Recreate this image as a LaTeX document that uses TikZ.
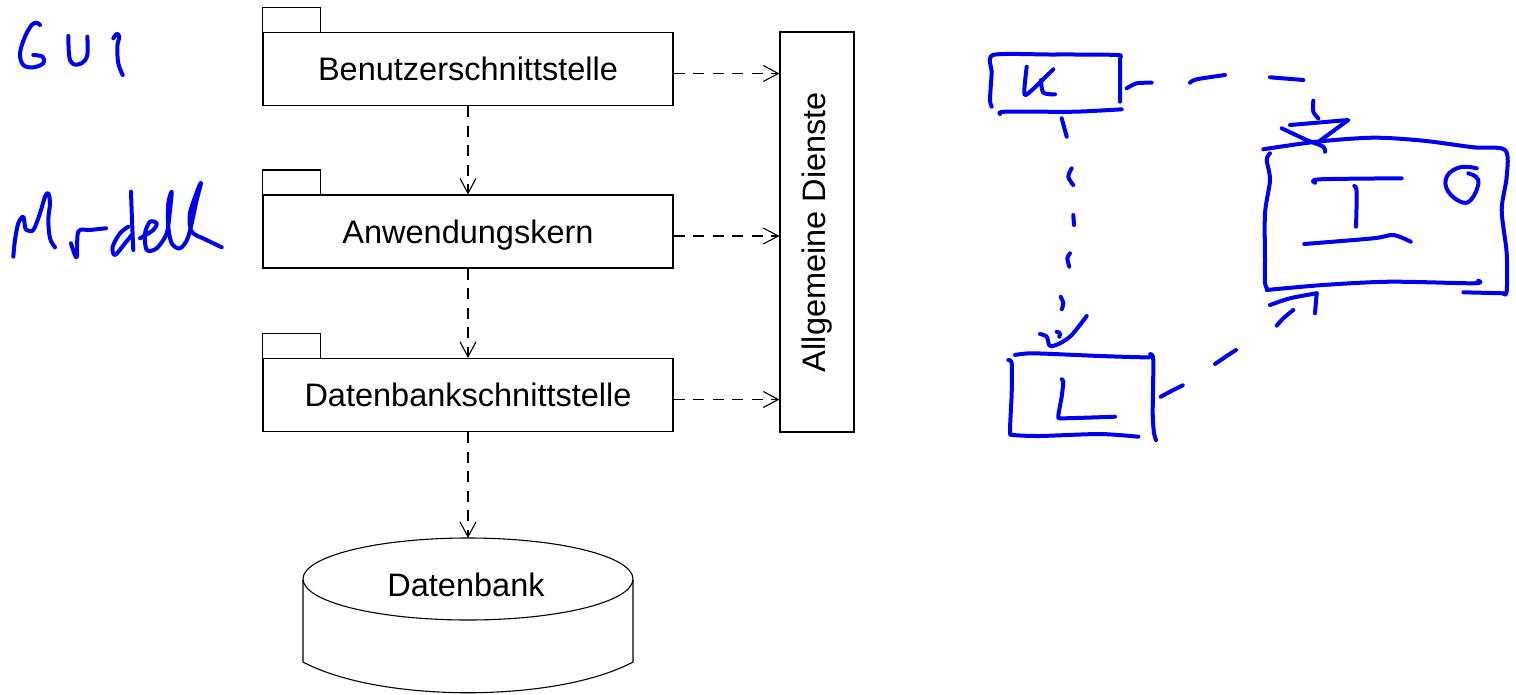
\documentclass[tikz,border=0pt]{standalone}
\usepackage{fontspec}
\setmainfont{Liberation Sans}
\usetikzlibrary{arrows.meta}
\definecolor{ink}{RGB}{0,0,240}
\begin{document}
\begin{tikzpicture}[x=1pt,y=-1pt,
  lbl/.style={font=\fontsize{32.5}{39}\selectfont},
  pkg/.style={draw, line width=1.1pt, minimum width=410pt, minimum height=73pt, inner sep=0pt,
    text height=23pt, text depth=0pt, lbl},
  dep/.style={draw, line width=1.1pt, dash pattern=on 11pt off 8.5pt,
    -{Straight Barb[length=15pt,width=16pt,line width=1.1pt]}},
  hw/.style={draw=ink, line width=4pt, line cap=round, line join=round},
]
\useasboundingbox (0,0) rectangle (1516,694);

% --- layered architecture ---
\node[pkg] (ui)  at (468,69)    {Benutzerschnittstelle};
\node[pkg] (ak)  at (468,231.5) {Anwendungskern};
\node[pkg] (dbs) at (468,395)   {Datenbankschnittstelle};
\foreach \p in {ui,ak,dbs}
  \draw[line width=1.1pt] (\p.north west) -- ++(0,-24.5) -- ++(58,0) -- ++(0,24.5);

\node[draw, line width=1.1pt, minimum width=74pt, minimum height=400pt, inner sep=0pt] (ad) at (817,232) {};
\node[lbl, rotate=90] (adtext) at (ad.center) {Allgemeine Dienste};

% database cylinder
\draw[line width=1.1pt] (303,580) -- (303,662) .. controls (380,703) and (556,703) .. (633,662) -- (633,580);
\draw[line width=1.1pt, fill=white] (468,579) ellipse [x radius=165, y radius=41];
\node[lbl] (db) at (466,585) {Datenbank};
\coordinate (dbtop) at (468,538);

% dependencies
\draw[dep] (ui.south) -- (ak.north);
\draw[dep] (ak.south) -- (dbs.north);
\draw[dep] (dbs.south) -- (dbtop);
\foreach \p in {ui,ak,dbs}
  \draw[dep] ([yshift=-4.5pt]\p.east) -- ([yshift=-4.5pt]\p.east -| ad.west);

% --- handwritten notes ---
% GUI
\draw[hw] plot[smooth, tension=0.6] coordinates {(40,25) (36.7,22.7) (31.7,25) (25,36.7) (20,53.3) (23.3,65) (33.3,67.3) (43.3,63.3) (42.7,56.7) (33.3,55)};
\draw[hw] plot[smooth, tension=0.6] coordinates {(68.3,36) (69.3,56.7) (73.3,64) (81.7,63.3) (87.3,55) (87.3,36.7)};
\draw[hw] plot[smooth, tension=0.6] coordinates {(113.3,38.3) (116.7,34) (119.3,36.7) (117.3,46.7) (118.3,63.3) (122.7,75)};
% Modell
\draw[hw] plot[smooth, tension=0.55] coordinates {(13.3,256.7) (15,240) (18.3,223.3) (23.3,216.7) (25,226.7) (26.7,230) (33.3,230) (40,213.3) (45,196.7) (48.3,193.3) (50,203.3) (48.3,220) (50,238.3) (55,247.3)};
\draw[hw] plot[smooth, tension=0.55] coordinates {(71,243.3) (76.7,257.3) (78.3,231.7) (90,230) (106,228.3)};
\draw[hw] plot[smooth, tension=0.55] coordinates {(131,191.7) (132,220) (133.3,250)};
\draw[hw] plot[smooth, tension=0.55] coordinates {(128.3,226.7) (120,233.3) (112.7,246.7) (115,255) (125,243.3) (131.7,235)};
\draw[hw] plot[smooth, tension=0.5] coordinates {(140,238.3) (153.3,230) (156.7,223.3) (150,221.7) (145,233.3) (146.7,250) (156.7,248.3) (166.7,233.3) (170,210) (171.7,191.7) (168.3,203.3) (168.3,226.7) (171.7,243.3) (180,248.3) (188.3,236.7) (196.7,200) (201,183.3) (198.3,188.3) (190,213.3) (191.7,231.7) (206.7,240) (221.7,247.3)};

% box K
\draw[hw] plot[smooth, tension=0.4] coordinates {(991.7,106.7) (990,100) (991.7,73) (993,55) (1050,54.5) (1116.7,55) (1120,60) (1120,101.7)};
\draw[hw] plot[smooth, tension=0.4] coordinates {(1000,114) (1005,111.7) (1075,111.7) (1121.7,109.3)};
\draw[hw] plot[smooth, tension=0.5] coordinates {(1026.7,66.7) (1024.3,91.7) (1028.3,93.3) (1053.3,69.3)};
\draw[hw] plot[smooth, tension=0.5] coordinates {(1041,80) (1043.3,92.7) (1055,94.3)};

% dashed arc K -> I
\draw[hw] plot[smooth] coordinates {(1126.7,88.3) (1136.7,83.3) (1151.7,82.7)};
\draw[hw] plot[smooth] coordinates {(1190,82.7) (1196.7,79.3) (1225,75)};
\draw[hw] (1270,77.3) -- (1303.3,80);
\draw[hw] plot[smooth] coordinates {(1313.3,100.7) (1313.3,111.7) (1318.3,118.3)};
\draw[hw] (1290,125) -- (1348.3,120) -- (1320,140.7);
\draw[hw] plot[smooth] coordinates {(1281.7,128.3) (1306.7,140) (1323.3,146.7) (1325,151.7)};

% box I
\draw[hw] plot[smooth, tension=0.5] coordinates {(1263.3,149.3) (1316.7,141.7) (1373.3,137.7) (1423.3,140.7) (1473.3,147.3) (1505,150) (1506.7,176.7) (1501.7,210) (1506.7,253.3) (1506.7,291.7) (1503.3,293.3)};
\draw[hw] (1463.3,292.3) -- (1503.3,293.3);
\draw[hw] plot[smooth, tension=0.5] coordinates {(1270,153.3) (1266.7,160) (1270,180) (1265,213.3) (1265,260) (1265,283.3) (1268.3,290)};
\draw[hw] plot[smooth, tension=0.5] coordinates {(1266.7,290) (1323.3,285) (1390,281.7) (1473.3,283.3) (1478.3,280.7)};
\draw[hw] plot[smooth] coordinates {(1315,182.7) (1320,179.3) (1401.7,178.3)};
\draw[hw] plot[smooth] coordinates {(1354.3,186) (1356.7,191.7) (1356,226.7)};
\draw[hw] plot[smooth, tension=0.5] coordinates {(1304.3,244) (1373.3,238.3) (1393.3,235) (1410.7,241.7)};
\draw[hw] plot[smooth, tension=0.7] coordinates {(1476.7,168.3) (1460,167.3) (1446.7,176.7) (1448.3,191.7) (1463.3,202.7) (1473.3,196.7) (1478.3,180) (1468.3,173.3)};

% dashed arc L -> I
\draw[hw] plot[smooth] coordinates {(1270,305) (1290,298.3) (1316.7,293.3)};
\draw[hw] (1316.7,293.3) -- (1315,313.3);
\draw[hw] plot[smooth] coordinates {(1276.7,325.7) (1283.3,318.3) (1293.3,310)};
\draw[hw] plot[smooth] coordinates {(1215,364) (1226.7,356) (1236,350)};
\draw[hw] plot[smooth] coordinates {(1160.7,396.7) (1173.3,390) (1182.7,385.3)};

% dashed line K -> L
\draw[hw] (1061.7,118.3) -- (1066.7,136.7);
\draw[hw] plot[smooth] coordinates {(1071.7,168.3) (1068.3,176.7) (1073.3,185)};
\draw[hw] (1073.3,215) -- (1074,225);
\draw[hw] plot[smooth] coordinates {(1070,253.3) (1067.3,258.3) (1069.3,266.7)};
\draw[hw] plot[smooth] coordinates {(1060.7,296.7) (1063.3,303.3) (1061.7,309.3)};
\draw[hw] plot[smooth, tension=0.5] coordinates {(1040,334) (1046.7,336.7) (1050,346) (1060,343.3) (1071.7,335) (1086.7,316)};
\draw[hw] plot[smooth] coordinates {(1056.7,331.7) (1060,333.3) (1059.3,336.7)};

% box L
\draw[hw] plot[smooth, tension=0.4] coordinates {(1015,355) (1033.3,353.3) (1100,356) (1148.3,357.3) (1150,354) (1153.3,360) (1152.7,413.3) (1154,433.3) (1156,440)};
\draw[hw] plot[smooth, tension=0.4] coordinates {(1008.3,360) (1011.7,363.3) (1011.7,393.3) (1010,431.7) (1013.3,435) (1040,436) (1100,434) (1138.3,436.7)};
\draw[hw] plot[smooth, tension=0.4] coordinates {(1061.7,379.3) (1063.3,381.7) (1061.7,396.7) (1058.3,416.7) (1063.3,418.3) (1115,416.7)};
\end{tikzpicture}
\end{document}
